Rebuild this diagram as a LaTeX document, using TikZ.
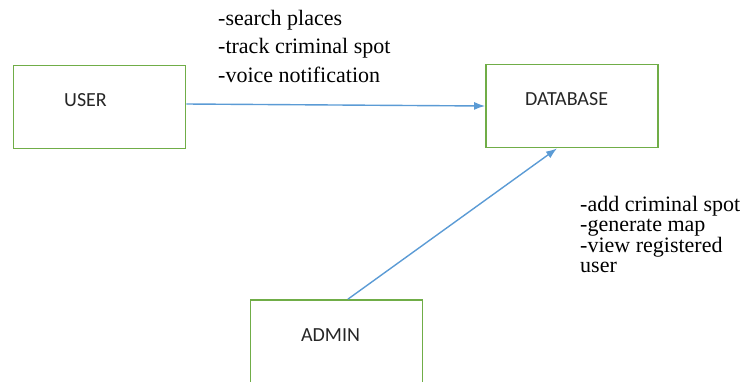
\documentclass[tikz,border=0pt]{standalone}
\usepackage{fontspec}
\setmainfont{Liberation Serif}
\newfontfamily\boxfont{Carlito}
\usetikzlibrary{arrows.meta}

\definecolor{boxgreen}{RGB}{112,173,71}
\definecolor{flowblue}{RGB}{91,155,213}

\begin{document}
\begin{tikzpicture}[x=1pt, y=-1pt,
    entity/.style={draw=boxgreen, line width=1.8pt, minimum width=172pt, minimum height=83pt, inner sep=0pt},
    tag/.style={font=\boxfont\fontsize{20}{24}\selectfont, text=black!85, inner sep=0pt},
    flow/.style={draw=flowblue, line width=1.4pt, -{Latex[length=11pt,width=8pt]}},
    notes/.style={align=left, anchor=base west, inner sep=0pt}]
    \useasboundingbox (0,0) rectangle (741,381);
    \clip (0,0) rectangle (741,381);

    % the three boxes
    \node[entity] (user) at (99.5,107) {};
    \node[entity] (db) at (572,106) {};
    \node[entity] (admin) at (336.5,341.5) {};

    \node[tag] (userlbl) at (85.5,100.5) {USER};
    \node[tag] (dblbl) at (566.5,99.5) {DATABASE};
    \node[tag] (adminlbl) at (330.5,335) {ADMIN};

    % data flows into the database
    \draw[flow] ([yshift=3pt]user.east) -- (db.west);
    \draw[flow] ([xshift=11.5pt]admin.north) -- ([xshift=-15pt]db.south);

    % what each side can do (base = last line)
    \node[notes, font=\fontsize{22}{28.5}\selectfont] (usernotes) at (218,82)
        {-search places\\-track criminal spot\\-voice notification};
    \node[notes, font=\fontsize{22}{19.5}\selectfont] (adminnotes) at (580,272)
        {-add criminal spot\\-generate map\\-view registered\\user};
\end{tikzpicture}
\end{document}
